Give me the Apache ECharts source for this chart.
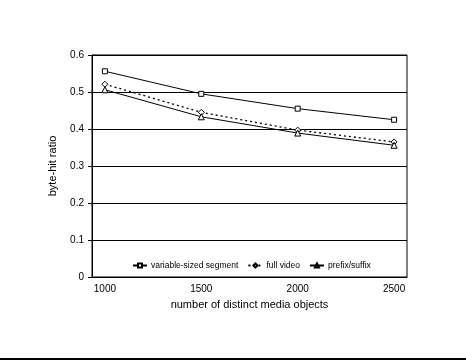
<!DOCTYPE html>
<html><head><meta charset="utf-8">
<script src="https://cdn.jsdelivr.net/npm/echarts@6/dist/echarts.min.js"></script>
<style>html,body{margin:0;padding:0;background:#fff}#c{width:466px;height:360px}</style>
</head><body><div id="c"></div>
<script>
const xValues = [1000, 1500, 2000, 2500];
const xTickLabels = [1000, 1500, 2000, 2500];
const yTicks = [0, 0.1, 0.2, 0.3, 0.4, 0.5, 0.6];
const seriesNames = ['variable-sized segment', 'full video', 'prefix/suffix'];
const variableSized = [0.556, 0.495, 0.455, 0.425];
const fullVideo = [0.521, 0.445, 0.397, 0.365];
const prefixSuffix = [0.506, 0.433, 0.389, 0.356];

const font = 'Arial, "Liberation Sans", sans-serif';
function pts(vals){ return xValues.map((x,i)=>[x, vals[i]]); }

const chart = echarts.init(document.getElementById('c'), null, {renderer:'canvas'});
chart.setOption({
  backgroundColor:'#fff',
  animation:false,
  textStyle:{fontFamily:font, color:'#000'},
  grid:{left:92, right:59, top:55, bottom:83, show:true, borderColor:'#000', borderWidth:1, backgroundColor:'transparent'},
  xAxis:{
    type:'value', min:933, max:2567,
    name:'number of distinct media objects', nameLocation:'middle', nameGap:22,
    nameTextStyle:{fontSize:11, color:'#000', fontFamily:font},
    axisLine:{show:true, lineStyle:{color:'#000'}},
    axisTick:{show:false},
    splitLine:{show:false},
    axisLabel:{customValues:xTickLabels, fontSize:10, color:'#000', margin:7, fontFamily:font,
      formatter:(v)=>String(Math.round(v))}
  },
  yAxis:{
    type:'value', min:0, max:0.6, interval:0.1,
    name:'byte-hit ratio', nameLocation:'middle', nameGap:34,
    nameTextStyle:{fontSize:11, color:'#000', fontFamily:font},
    axisLine:{show:true, lineStyle:{color:'#000'}},
    axisTick:{show:true, inside:false, length:4, lineStyle:{color:'#000'}},
    splitLine:{show:true, lineStyle:{color:'#000', width:1}},
    axisLabel:{fontSize:10, color:'#000', margin:8, fontFamily:font,
      formatter:(v)=> yTicks.includes(+v.toFixed(1)) ? String(+v.toFixed(1)) : ''}
  },
  legend:{
    data:seriesNames, left:127, top:256, itemWidth:14, itemHeight:5, itemGap:9,
    textStyle:{fontSize:8.5, color:'#000', fontFamily:font, padding:[0,0,0,-1]}
  },
  series:[
    {name:seriesNames[0], type:'line', data:pts(variableSized), symbol:'rect', symbolSize:5,
     lineStyle:{color:'#000', width:1}, itemStyle:{color:'#fff', borderColor:'#000', borderWidth:1}},
    {name:seriesNames[1], type:'line', data:pts(fullVideo), symbol:'diamond', symbolSize:6,
     lineStyle:{color:'#000', width:1.3, type:[2,3]}, itemStyle:{color:'#fff', borderColor:'#000', borderWidth:1}},
    {name:seriesNames[2], type:'line', data:pts(prefixSuffix), symbol:'triangle', symbolSize:6,
     lineStyle:{color:'#000', width:1}, itemStyle:{color:'#fff', borderColor:'#000', borderWidth:1}}
  ],
  graphic:[{type:'line', shape:{x1:0, y1:359, x2:466, y2:359}, style:{stroke:'#000', lineWidth:2}}]
});
</script></body></html>
